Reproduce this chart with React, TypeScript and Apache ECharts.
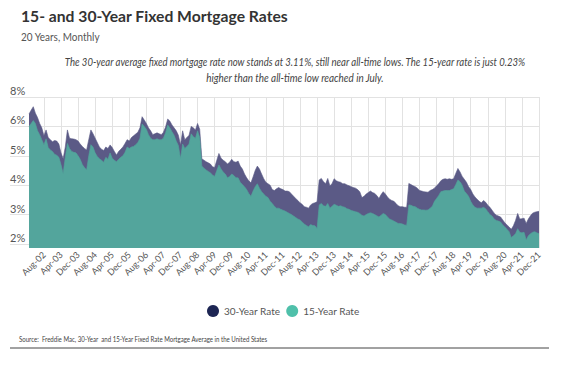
import React, { useEffect, useRef } from "react";
import * as echarts from "echarts";

const MONTHS = ["Jan", "Feb", "Mar", "Apr", "May", "Jun", "Jul", "Aug", "Sep", "Oct", "Nov", "Dec"];
const YEARS = ["02","03","04","05","06","07","08","09","10","11","12","13","14","15","16","17","18","19","20","21"];
const categories: string[] = [];
YEARS.forEach((y) => MONTHS.forEach((m) => categories.push(m + "-" + y)));

const rate30 = [
  6.42,6.55,6.67,6.45,6.30,6.10,5.95,5.68,5.88,5.62,5.55,5.48,5.52,5.50,5.40,5.10,4.90,5.30,5.88,5.60,5.58,
  5.57,
  5.55,5.50,5.40,5.32,5.25,5.20,5.55,5.88,5.75,5.60,5.45,5.30,5.22,5.18,5.30,5.25,5.37,5.28,5.15,5.03,5.15,5.22,5.30,5.42,5.55,5.50,5.62,5.68,
  5.74,
  5.80,5.95,6.33,6.22,6.10,5.95,5.85,5.72,5.75,5.78,5.75,5.72,5.80,5.98,6.25,6.18,6.05,5.95,5.85,5.70,5.37,5.85,5.55,5.62,5.70,6.00,5.95,5.88,6.10,5.90,4.90,4.85,4.80,
  4.76,
  4.72,4.63,4.60,4.85,5.08,4.92,4.85,4.80,4.72,4.78,4.88,4.80,4.78,4.82,4.65,4.55,4.38,4.25,4.15,4.08,4.28,4.50,4.65,4.55,4.38,4.22,4.10,4.05,4.00,3.85,3.82,3.88,3.92,
  3.88,
  3.85,3.80,3.80,3.78,3.70,3.62,3.55,3.48,3.40,3.35,3.27,3.25,3.22,3.33,3.38,3.40,3.44,4.18,4.23,4.12,4.05,4.23,3.98,4.05,4.22,4.15,4.12,4.10,4.05,4.05,4.01,3.98,3.95,
  3.92,
  3.90,3.85,3.78,3.58,3.62,3.70,3.75,3.80,3.75,3.72,3.65,3.55,3.68,3.78,3.70,3.60,3.52,3.48,3.45,3.38,3.30,3.27,3.27,3.25,3.25,4.06,4.02,3.98,3.95,3.90,3.82,3.80,3.78,
  3.77,
  3.76,3.82,3.85,3.90,3.98,4.05,4.15,4.20,4.22,4.20,4.22,4.20,4.22,4.40,4.57,4.45,4.30,4.20,4.10,3.95,3.85,3.70,3.60,3.52,3.45,3.40,3.48,3.42,3.32,3.25,3.15,3.05,2.98,
  2.95,
  2.92,2.82,2.72,2.65,2.58,2.50,2.62,2.80,3.04,2.85,2.86,2.88,2.70,2.85,2.96,3.05,3.08,3.10,3.11,
];

const rate15 = [
  6.00,6.10,6.20,6.10,5.85,5.72,5.55,5.38,5.58,5.28,5.20,5.15,5.05,5.02,4.95,4.70,4.40,4.95,5.42,5.25,5.15,
  5.12,
  5.10,5.00,4.88,4.70,4.60,4.52,5.00,5.38,5.30,5.10,4.98,4.90,4.85,4.78,4.95,4.88,5.10,4.92,4.85,4.80,4.88,4.95,5.00,5.12,5.30,5.25,5.30,5.32,
  5.38,
  5.45,5.60,6.08,6.00,5.90,5.72,5.60,5.55,5.55,5.58,5.55,5.55,5.60,5.78,6.05,5.95,5.82,5.70,5.50,5.35,4.91,5.40,5.25,5.32,5.40,5.75,5.65,5.60,5.85,5.62,4.65,4.58,4.52,
  4.47,
  4.42,4.35,4.30,4.50,4.69,4.55,4.45,4.38,4.25,4.30,4.38,4.33,4.25,4.25,4.10,4.02,3.95,3.85,3.72,3.62,3.80,3.95,4.05,3.90,3.78,3.70,3.62,3.58,3.45,3.38,3.28,3.22,3.22,
  3.18,
  3.15,3.12,3.08,3.04,3.00,2.95,2.90,2.85,2.82,2.75,2.68,2.63,2.59,2.66,2.63,2.62,2.53,3.33,3.38,3.30,3.28,3.38,3.22,3.28,3.35,3.32,3.28,3.30,3.27,3.25,3.20,3.18,3.14,
  3.12,
  3.10,3.08,3.04,2.98,2.95,3.00,3.04,3.06,3.04,3.00,2.96,2.92,2.98,3.04,3.00,2.92,2.85,2.82,2.78,2.74,2.70,2.70,2.68,2.65,2.64,3.33,3.32,3.28,3.27,3.22,3.18,3.16,3.16,
  3.15,
  3.16,3.22,3.28,3.45,3.55,3.65,3.78,3.80,3.82,3.82,3.82,3.85,3.88,4.02,4.18,4.12,4.00,3.80,3.72,3.62,3.45,3.33,3.25,3.22,3.22,3.22,3.25,3.20,3.10,3.00,2.95,2.85,2.80,
  2.78,
  2.75,2.65,2.58,2.50,2.42,2.22,2.28,2.35,2.52,2.40,2.38,2.40,2.14,2.28,2.35,2.40,2.42,2.38,2.35,
];

const yTicks = [2, 3, 4, 5, 6, 7];
const yTickLabels = ["2%", "3%", "4%", "5%", "6%", "8%"];

const TITLE = "15- and 30-Year Fixed Mortgage Rates";
const SUBTITLE = "20 Years, Monthly";
const NOTE1 = "The 30-year average fixed mortgage rate now stands at 3.11%, still near all-time lows. The 15-year rate is just 0.23%";
const NOTE2 = "higher than the all-time low reached in July.";
const SOURCE = "Source:  Freddie Mac, 30-Year  and 15-Year Fixed Rate Mortgage Average in the United States";

const FONT = "Lato, 'Open Sans', sans-serif";

export default function App() {
  const ref = useRef<HTMLDivElement>(null);
  useEffect(() => {
    if (!ref.current) return;
    const chart = echarts.init(ref.current, null, { renderer: "svg" });
    const labelInterval = (idx: number) => (idx - 7) % 8 === 0 && idx >= 7;
    chart.setOption({
      animation: false,
      backgroundColor: "#ffffff",
      textStyle: { fontFamily: FONT },
      grid: [
        { left: 10, right: 32, top: 97, bottom: 134 },
        { left: 29, right: 32, top: 97, bottom: 130 },
      ],
      xAxis: [
        { gridIndex: 0, type: "value", show: false, min: 0, max: 1 },
        {
          gridIndex: 1,
          type: "category",
          boundaryGap: false,
          data: categories,
          axisLine: { show: false },
          axisTick: { show: false },
          axisLabel: {
            interval: labelInterval,
            rotate: 45,
            fontSize: 9,
            color: "#555",
            margin: 5,
            fontFamily: FONT,
          },
          splitLine: { show: true, interval: labelInterval, lineStyle: { color: "#e2e2e2", width: 1 } },
        },
      ],
      yAxis: [
        {
          gridIndex: 0,
          type: "value",
          min: 2,
          max: 7,
          interval: 1,
          axisLine: { show: false },
          axisTick: { show: false },
          splitLine: { show: true, lineStyle: { color: "#e2e2e2", width: 1 } },
          axisLabel: {
            inside: true,
            margin: 0,
            align: "left",
            verticalAlign: "bottom",
            padding: [0, 0, 1, 0],
            fontSize: 11,
            color: "#555",
            fontFamily: FONT,
            formatter: (v: number) => yTickLabels[yTicks.indexOf(v)] ?? "",
          },
        },
        { gridIndex: 1, type: "value", min: 1.864, max: 7, show: false, splitLine: { show: false } },
      ],
      legend: {
        top: 300,
        left: 202,
        icon: "circle",
        itemWidth: 12,
        itemHeight: 12,
        itemGap: 6,
        textStyle: { fontSize: 10, color: "#555", fontFamily: FONT },
        data: [
          { name: "30-Year Rate", itemStyle: { color: "#1d2553" } },
          { name: "15-Year Rate", itemStyle: { color: "#4fc0aa" } },
        ],
      },
      series: [
        {
          name: "30-Year Rate",
          type: "line",
          xAxisIndex: 1,
          yAxisIndex: 1,
          data: rate30,
          symbol: "none",
          itemStyle: { color: "#1d2553" },
          lineStyle: { width: 0.6, color: "#5b5a86" },
          areaStyle: { color: "#5b5a86", opacity: 1 },
          z: 2,
        },
        {
          name: "15-Year Rate",
          type: "line",
          xAxisIndex: 1,
          yAxisIndex: 1,
          data: rate15,
          symbol: "none",
          itemStyle: { color: "#4fc0aa" },
          lineStyle: { width: 0.6, color: "#53a59c" },
          areaStyle: { color: "#53a59c", opacity: 1 },
          z: 3,
        },
      ],
      graphic: [
        { type: "text", x: 21, y: 7, scaleX: 0.98, style: { text: TITLE, fontSize: 16, fontWeight: "bold", fill: "#333", fontFamily: FONT } },
        { type: "text", x: 21, y: 30, scaleX: 0.83, style: { text: SUBTITLE, fontSize: 12, fill: "#555", fontFamily: FONT } },
        { type: "text", x: 295, y: 62, scaleX: 0.87, style: { text: NOTE1, fontSize: 11, fontStyle: "italic", fill: "#444", align: "center", verticalAlign: "middle", fontFamily: FONT } },
        { type: "text", x: 295, y: 78, scaleX: 0.9, style: { text: NOTE2, fontSize: 11, fontStyle: "italic", fill: "#444", align: "center", verticalAlign: "middle", fontFamily: FONT } },
        { type: "text", x: 19, y: 339, scaleX: 0.87, style: { text: SOURCE, fontSize: 7, fill: "#444", verticalAlign: "middle", fontFamily: FONT } },
        { type: "line", shape: { x1: 10, y1: 348, x2: 549, y2: 348 }, style: { stroke: "#444", lineWidth: 1 } },
      ],
    });
    return () => chart.dispose();
  }, []);
  return <div ref={ref} style={{ width: 571, height: 378, position: "absolute", left: 0, top: 0 }} />;
}
